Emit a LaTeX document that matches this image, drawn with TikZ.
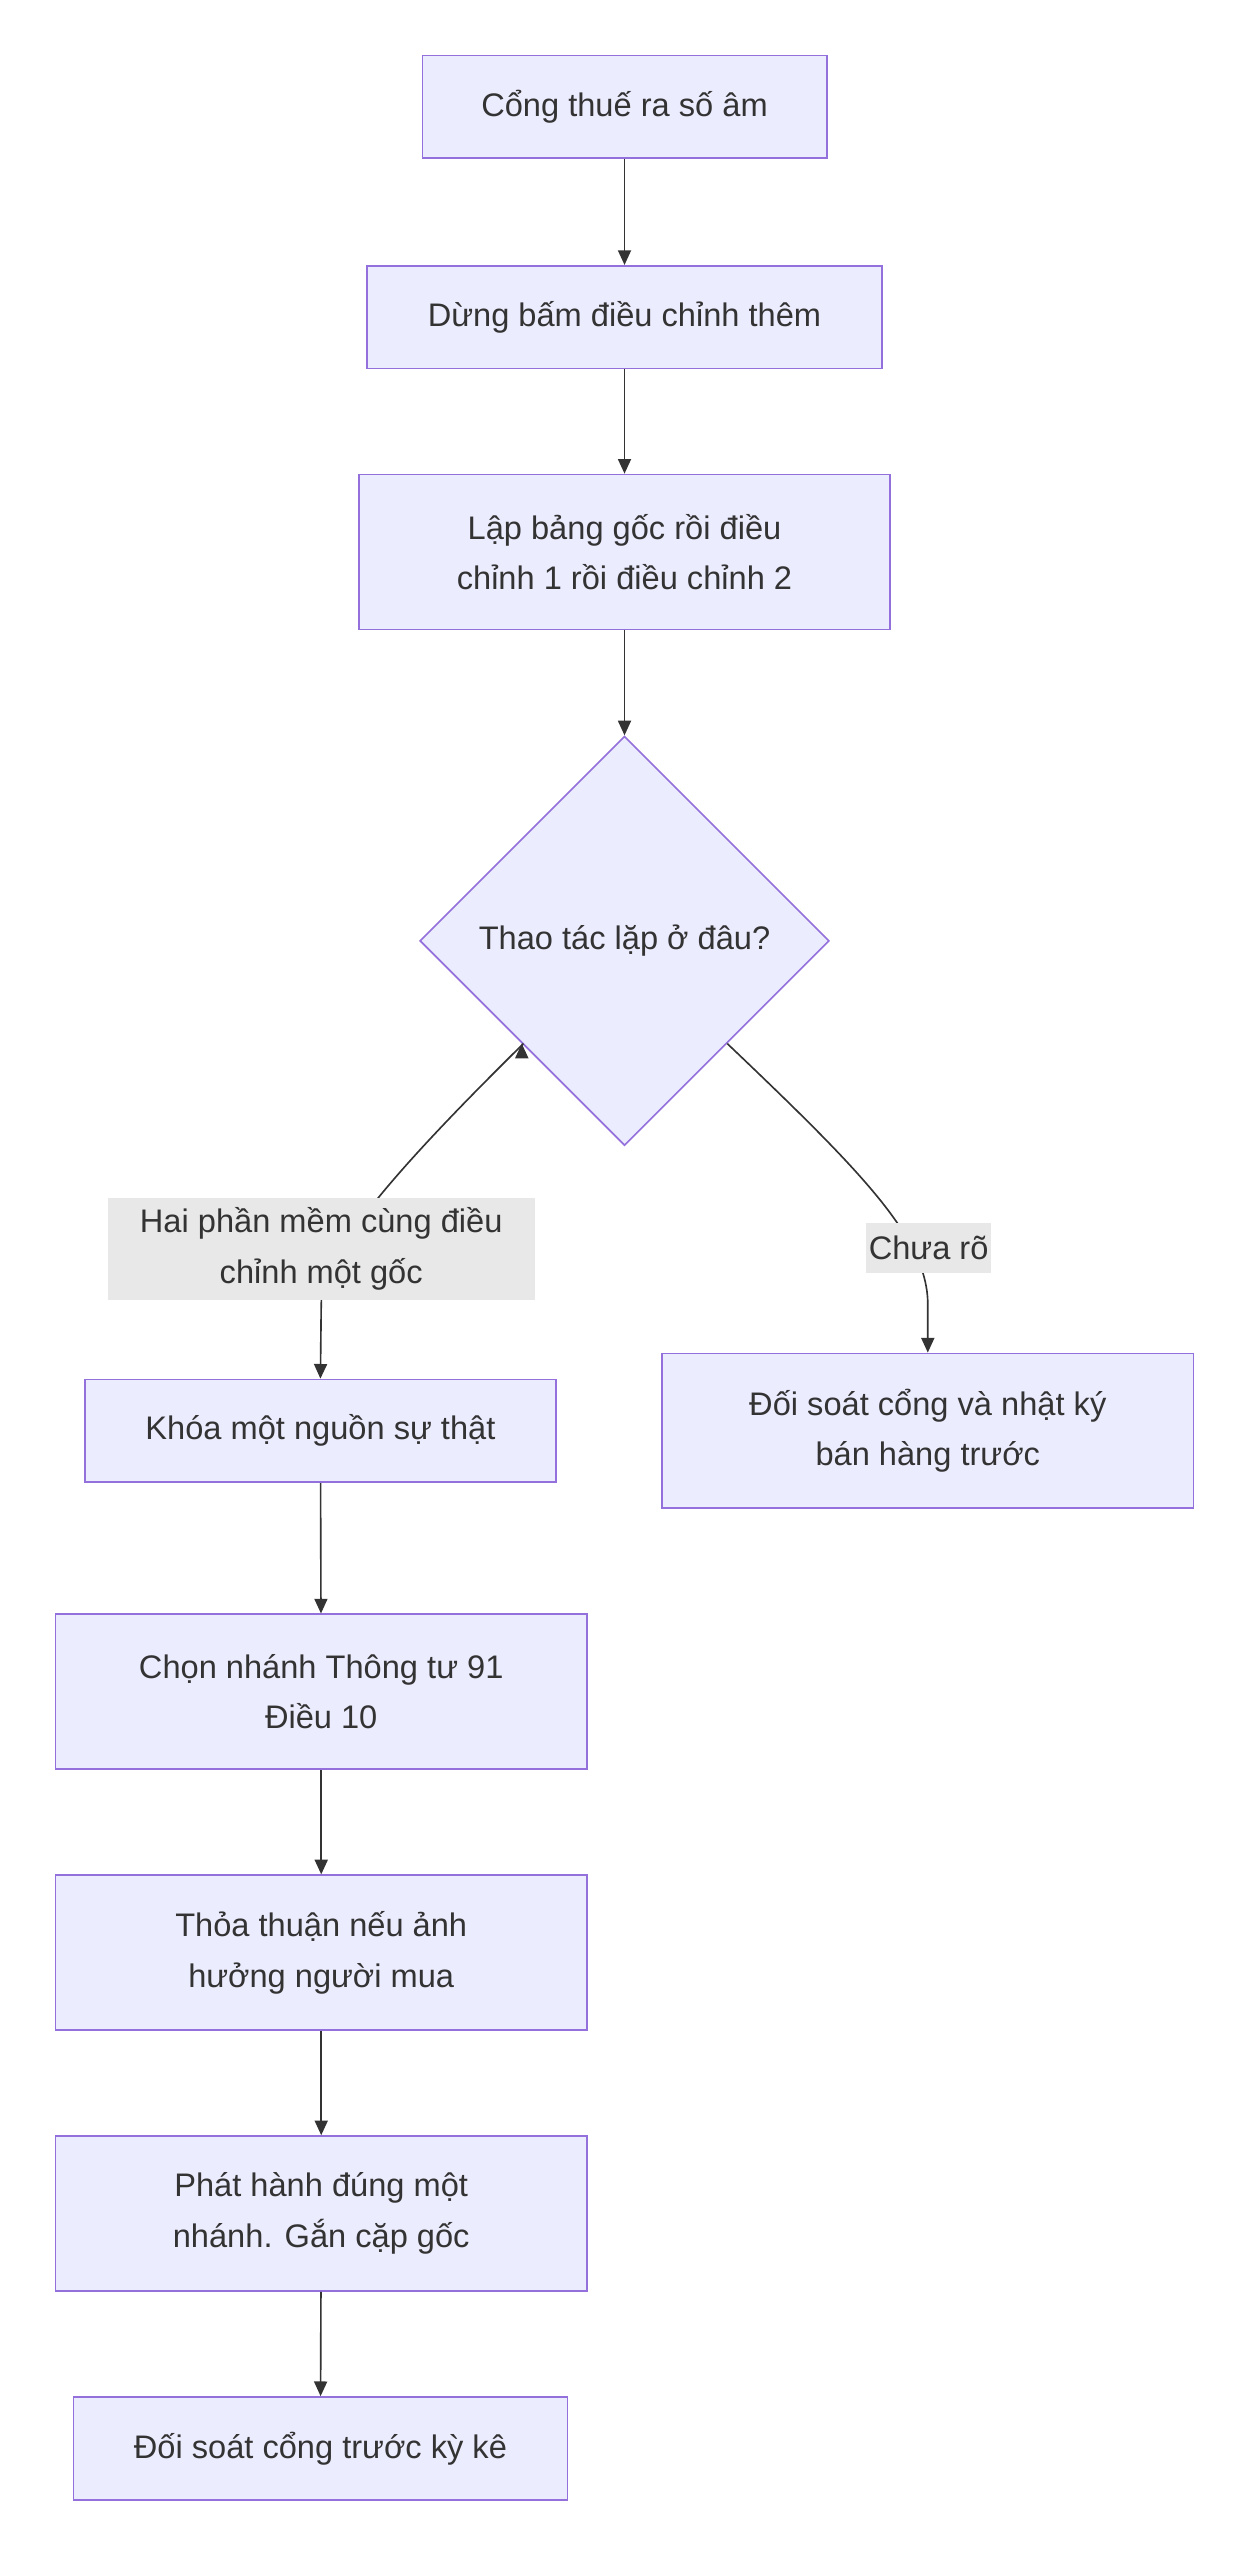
\documentclass[tikz,border=0pt]{standalone}
\usepackage{fontspec}
\setmainfont{Liberation Sans}
\usetikzlibrary{shapes.geometric,arrows.meta}
\definecolor{bfill}{HTML}{ECECFF}
\definecolor{bdraw}{HTML}{9370DB}
\definecolor{tcol}{HTML}{333333}
\definecolor{lbg}{HTML}{E8E8E8}
\begin{document}
\begin{tikzpicture}[x=1pt,y=-1pt,
  box/.style={draw=bdraw,fill=bfill,line width=1pt,text=tcol,font=\fontsize{20}{31}\selectfont,align=center,inner sep=0pt},
  lab/.style={fill=lbg,text=tcol,font=\fontsize{20}{31}\selectfont,align=center,inner sep=0pt},
  arr/.style={draw=tcol,line width=1pt,-{Triangle[length=9pt,width=8pt]}}]
\useasboundingbox (0,0) rectangle (766,1570);
\node[box,minimum width=248pt,minimum height=63pt] (a) at (383,65.5) {Cổng thuế ra số âm};
\node[box,minimum width=316pt,minimum height=63pt] (b) at (383,194.5) {Dừng bấm điều chỉnh thêm};
\node[box,minimum width=326pt,minimum height=95pt] (c) at (383,338.5) {Lập bảng gốc rồi điều\\chỉnh 1 rồi điều chỉnh 2};
\node[box,diamond,minimum width=251pt,minimum height=251pt] (d) at (383,577) {Thao tác lặp ở đâu?};
\node[box,minimum width=289pt,minimum height=63pt] (e) at (196.5,877.5) {Khóa một nguồn sự thật};
\node[box,minimum width=326pt,minimum height=95pt] (f) at (569,877.5) {Đối soát cổng và nhật ký\\bán hàng trước};
\node[box,minimum width=326pt,minimum height=95pt] (g) at (197,1037.5) {Chọn nhánh Thông tư 91\\Điều 10};
\node[box,minimum width=326pt,minimum height=95pt] (h) at (197,1197.5) {Thỏa thuận nếu ảnh\\hưởng người mua};
\node[box,minimum width=326pt,minimum height=95pt] (i) at (197,1357.5) {Phát hành đúng một\\nhánh. Gắn cặp gốc};
\node[box,minimum width=303pt,minimum height=63pt] (j) at (196.5,1501.5) {Đối soát cổng trước kỳ kê};
\draw[arr] (a) -- (b);
\draw[arr] (b) -- (c);
\draw[arr] (c) -- (d);
\draw[arr] (d.south west) ++(0,0) coordinate (p1);
\draw[arr] (321,640) .. controls (240,720) and (197,770) .. (197,800) -- (e.north);
\draw[arr] (446,640) .. controls (530,720) and (569,760) .. (569,800) -- (f.north);
\node[lab,minimum width=262pt,minimum height=62pt] (l1) at (197,766) {Hai phần mềm cùng điều\\chỉnh một gốc};
\node[lab,minimum width=77pt,minimum height=31pt] (l2) at (569.5,765.5) {Chưa rõ};
\draw[arr] (e) -- (g);
\draw[arr] (g) -- (h);
\draw[arr] (h) -- (i);
\draw[arr] (i) -- (j);
\end{tikzpicture}
\end{document}
